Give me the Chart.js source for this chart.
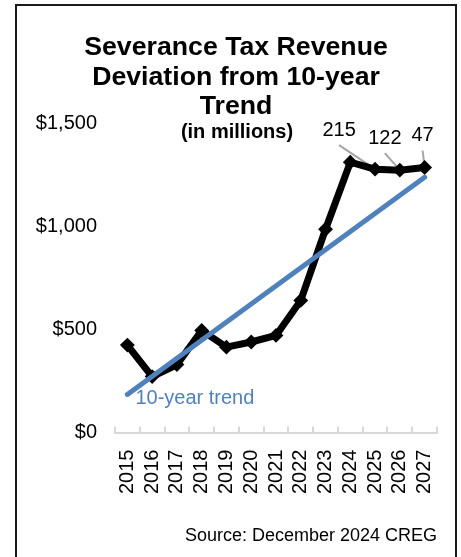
<!DOCTYPE html>
<html>
<head>
<meta charset="utf-8">
<script src="https://cdn.jsdelivr.net/npm/chart.js@4.4.1/dist/chart.umd.min.js"></script>
<style>
  html, body { margin: 0; padding: 0; background: #fff; overflow: hidden; }
  #wrap { position: relative; width: 461px; height: 557px; }
  #chart { position: absolute; left: 0; top: 0; }
  #frame {
    position: absolute;
    left: 15px;
    top: 4px;
    width: 438px;
    height: 600px;
    border: 2px solid #1a1a1a;
    border-bottom: none;
    pointer-events: none;
  }
</style>
</head>
<body>
<div id="wrap">
  <canvas id="chart" width="461" height="557"></canvas>
  <div id="frame"></div>
</div>
<script>
const years = ["2015", "2016", "2017", "2018", "2019", "2020", "2021",
  "2022", "2023", "2024", "2025", "2026", "2027"];
// severance tax revenue, $ millions
const revenue = [425, 272, 330, 496, 415, 440, 472, 642, 988, 1314, 1280, 1275, 1288];
// straight trend line, first and last year only
const trendYears = ["2015", "2027"];
const trendValues = [185, 1241];
// deviation from trend, called out on the last three years
const calloutYears = ["2025", "2026", "2027"];
const calloutValues = [215, 122, 47];

const FONT = "'Liberation Sans', Arial, Helvetica, sans-serif";
const BLUE = "#4f81bd";

Chart.defaults.font.family = FONT;
Chart.defaults.color = "#000";

// label offsets from each called-out point
const calloutOffsets = [[-36, -39], [-15, -32], [-2, -32]];

// subtitle under the title, trend label, deviation callouts and source note
const extras = {
  id: "extras",
  beforeDatasetsDraw(chart) {
    const ctx = chart.ctx;
    const meta = chart.getDatasetMeta(1);
    ctx.save();
    ctx.strokeStyle = "#a6a6a6";
    ctx.lineWidth = 2;
    calloutYears.forEach((y, i) => {
      const pt = meta.data[years.indexOf(y)];
      const lx = pt.x + calloutOffsets[i][0];
      const ly = pt.y + calloutOffsets[i][1];
      ctx.beginPath();
      ctx.moveTo(lx, ly + 15);
      ctx.lineTo(pt.x, pt.y);
      ctx.stroke();
    });
    ctx.restore();
  },
  afterDraw(chart) {
    const ctx = chart.ctx;
    const { x, y } = chart.scales;
    const area = chart.chartArea;
    const meta = chart.getDatasetMeta(1);
    ctx.save();

    const tb = chart.titleBlock;
    ctx.font = "bold 20px " + FONT;
    ctx.textAlign = "center";
    ctx.textBaseline = "middle";
    ctx.fillStyle = "#000";
    ctx.fillText("(in millions)", tb.left + tb.width / 2 + 1, tb.bottom + 9);

    ctx.font = "20px " + FONT;
    calloutYears.forEach((yr, i) => {
      const pt = meta.data[years.indexOf(yr)];
      ctx.fillText(String(calloutValues[i]), pt.x + calloutOffsets[i][0], pt.y + calloutOffsets[i][1]);
    });

    ctx.font = "18px " + FONT;
    ctx.textAlign = "right";
    ctx.fillText("Source: December 2024 CREG", area.right, chart.height - 21);

    ctx.font = "20px " + FONT;
    ctx.fillStyle = BLUE;
    ctx.textAlign = "left";
    ctx.fillText("10-year trend", x.getPixelForValue(trendYears[0]) + 8,
      y.getPixelForValue(trendValues[0]) + 4);
    ctx.restore();
  },
};

const chart = new Chart(document.getElementById("chart"), {
  type: "line",
  data: {
    labels: years,
    datasets: [
      {
        label: "10-year trend",
        data: trendYears.map((yr, i) => ({ x: yr, y: trendValues[i] })),
        borderColor: BLUE,
        borderWidth: 5,
        borderCapStyle: "round",
        pointRadius: 0,
        order: 0,
      },
      {
        label: "Revenue",
        data: revenue,
        borderColor: "#000",
        borderWidth: 7,
        pointStyle: "rectRot",
        pointRadius: 6,
        pointBorderWidth: 2,
        pointBackgroundColor: "#000",
        pointBorderColor: "#000",
        order: 1,
      },
    ],
  },
  options: {
    responsive: false,
    animation: false,
    clip: false,
    layout: { padding: { left: 35, right: 24, top: 0, bottom: 40 } },
    plugins: {
      legend: { display: false },
      tooltip: { enabled: false },
      title: {
        display: true,
        text: ["Severance Tax Revenue", "Deviation from 10-year", "Trend"],
        font: { size: 26.7, weight: "bold", lineHeight: 1.11 },
        padding: { top: 33, bottom: 2 },
      },
    },
    scales: {
      x: {
        offset: true,
        grid: {
          offset: true,
          drawOnChartArea: false,
          tickLength: -6,
          color: "#d9d9d9",
          lineWidth: 2,
        },
        border: { display: true, color: "#d9d9d9", width: 2 },
        ticks: {
          autoSkip: false,
          minRotation: 90,
          maxRotation: 90,
          padding: 23,
          font: { size: 20 },
        },
        // the offset categories already leave room for the end labels
        afterFit(scale) {
          scale.paddingLeft = 0;
          scale.paddingRight = 0;
        },
      },
      y: {
        min: 0,
        max: 1500,
        grid: { display: false, drawTicks: false },
        border: { display: false },
        ticks: {
          stepSize: 500,
          padding: 18,
          font: { size: 20 },
          callback: (v) => "$" + v.toLocaleString("en-US"),
        },
        afterFit(scale) {
          scale.width = 80;
        },
      },
    },
  },
  plugins: [extras],
});
</script>
</body>
</html>
